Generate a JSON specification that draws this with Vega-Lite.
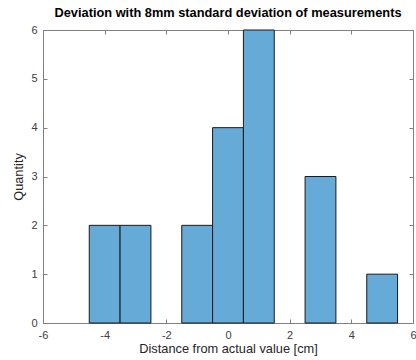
{
  "$schema": "https://vega.github.io/schema/vega-lite/v6.json",
  "autosize": "none",
  "width": 370,
  "height": 293,
  "padding": {"left": 43, "top": 30, "right": 3, "bottom": 37},
  "background": "white",
  "title": {
    "text": "Deviation with 8mm standard deviation of measurements",
    "font": "Liberation Sans",
    "fontSize": 12.8,
    "fontWeight": "bold",
    "color": "#000000",
    "anchor": "middle",
    "offset": 4
  },
  "config": {
    "view": {"stroke": "#808080", "strokeWidth": 1},
    "axis": {
      "grid": false,
      "domainColor": "#808080",
      "tickColor": "#808080",
      "labelColor": "#404040",
      "titleColor": "#262626",
      "labelFont": "Liberation Sans",
      "titleFont": "Liberation Sans",
      "labelFontSize": 11,
      "titleFontSize": 12.8,
      "titleFontWeight": "normal",
      "tickSize": -4,
      "labelFlush": false
    }
  },
  "data": {
    "values": [
      {"start": -4.5, "end": -3.5, "count": 2},
      {"start": -3.5, "end": -2.5, "count": 2},
      {"start": -1.5, "end": -0.5, "count": 2},
      {"start": -0.5, "end": 0.5, "count": 4},
      {"start": 0.5, "end": 1.5, "count": 6},
      {"start": 2.5, "end": 3.5, "count": 3},
      {"start": 4.5, "end": 5.5, "count": 1}
    ]
  },
  "layer": [
    {
      "mark": {"type": "bar", "fill": "#66AAD7", "stroke": "#1a1a1a", "strokeWidth": 1},
      "encoding": {
        "x": {
          "field": "start", "type": "quantitative",
          "scale": {"domain": [-6, 6], "nice": false},
          "axis": {"values": [-6, -4, -2, 0, 2, 4, 6], "labelExpr": "'' + datum.value", "labelPadding": 10, "title": "Distance from actual value [cm]", "titlePadding": 2}
        },
        "x2": {"field": "end"},
        "y": {
          "field": "count", "type": "quantitative",
          "scale": {"domain": [0, 6], "nice": false},
          "axis": {"values": [0, 1, 2, 3, 4, 5, 6], "labelPadding": 10, "title": "Quantity", "titlePadding": 5}
        },
        "y2": {"datum": 0}
      }
    },
    {
      "mark": {"type": "point", "opacity": 0},
      "encoding": {
        "x": {
          "field": "start", "type": "quantitative",
          "axis": {"orient": "top", "values": [-6, -4, -2, 0, 2, 4, 6], "labels": false, "title": null}
        },
        "y": {
          "field": "count", "type": "quantitative",
          "axis": {"orient": "right", "values": [0, 1, 2, 3, 4, 5, 6], "labels": false, "title": null}
        }
      }
    }
  ],
  "resolve": {"axis": {"x": "independent", "y": "independent"}}
}
